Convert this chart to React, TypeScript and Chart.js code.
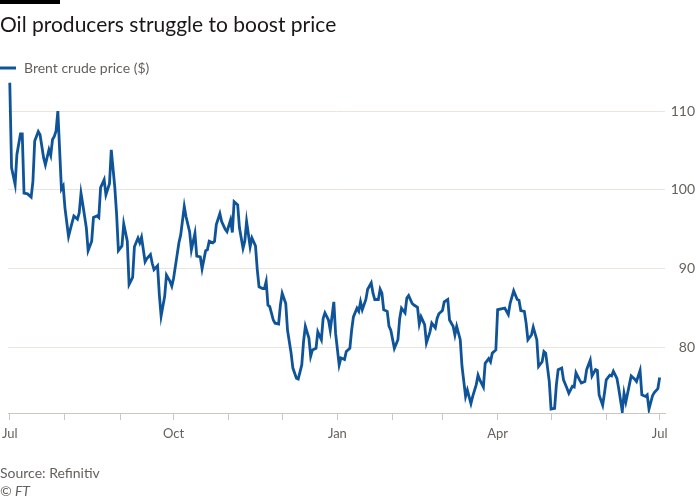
import React, { useEffect, useRef } from "react";
import { Chart, registerables } from "chart.js";

Chart.register(...registerables);

// Days since 1 Jul 2022
const days: number[] = [
  0, 1, 3, 4, 6, 7, 8, 10, 12, 13, 14, 16, 17, 19, 20, 22, 23, 24, 25, 26, 27, 29, 30, 31, 33, 34, 36, 38, 39, 40,
  41, 43, 44, 46, 47, 49, 50, 51, 53, 54, 56, 57, 59, 60, 61, 63, 64, 66, 67, 69, 70, 72, 73, 74, 76, 77, 79, 80,
  81, 83, 84, 85, 87, 88, 90, 91, 92, 94, 95, 96, 98, 99, 101, 102, 104, 105, 107, 108, 110, 111, 112, 114, 115,
  116, 118, 119, 121, 122, 124, 125, 126, 128, 129, 131, 132, 133, 135, 136, 138, 139, 140, 142, 143, 144, 145,
  146, 148, 149, 151, 152, 153, 155, 156, 158, 159, 161, 162, 164, 165, 166, 168, 169, 170, 172, 173, 175, 176,
  177, 179, 180, 182, 183, 185, 186, 188, 189, 191, 192, 193, 195, 196, 197, 198, 200, 201, 203, 204, 205, 207,
  208, 209, 210, 212, 213, 214, 216, 218, 219, 220, 222, 223, 224, 226, 227, 229, 230, 231, 233, 234, 236, 237,
  239, 240, 241, 243, 244, 246, 247, 249, 250, 251, 253, 254, 256, 257, 259, 260, 262, 263, 264, 266, 267, 269,
  270, 271, 273, 274, 276, 278, 280, 281, 283, 285, 286, 287, 289, 290, 291, 293, 294, 296, 297, 299, 300, 301,
  303, 304, 306, 307, 308, 310, 311, 313, 314, 316, 317, 318, 320, 321, 323, 324, 326, 327, 329, 330, 331, 333,
  334, 335, 337, 338, 339, 341, 342, 344, 345, 346, 348, 349, 351, 352, 354, 355, 357, 358, 359, 361, 362, 364,
  365,
];

// Brent crude price ($)
const prices: number[] = [
  113.6, 102.8, 100.7, 104.5, 107.1, 107.1, 99.6, 99.5, 99.1, 101.1, 106.2, 107.4, 107.0, 104.1, 103.2, 105.1,
  104.4, 106.4, 106.8, 107.5, 110.0, 100.1, 100.5, 97.7, 94.1, 95.0, 96.7, 96.3, 97.1, 99.6, 98.2, 95.2, 92.3,
  93.5, 96.5, 96.7, 96.5, 100.3, 101.3, 99.4, 100.8, 105.1, 100.3, 96.9, 92.3, 92.9, 95.7, 93.5, 88.0, 88.9, 92.8,
  93.9, 93.3, 94.0, 90.9, 91.3, 91.8, 90.7, 89.9, 90.4, 86.7, 84.0, 86.5, 89.2, 88.4, 87.8, 88.8, 91.8, 93.3, 94.3,
  97.9, 96.6, 94.7, 92.4, 94.5, 91.6, 91.5, 90.0, 92.3, 92.4, 93.5, 93.3, 93.5, 95.6, 97.0, 96.0, 95.0, 94.7, 96.2,
  94.6, 98.5, 98.1, 95.2, 92.6, 93.5, 96.0, 92.8, 93.9, 92.9, 89.9, 87.7, 87.5, 87.5, 88.4, 85.4, 85.2, 83.5, 83.1,
  83.0, 85.4, 86.9, 85.6, 82.2, 79.3, 77.4, 76.1, 76.0, 77.8, 80.8, 82.7, 81.2, 78.9, 79.7, 79.9, 82.0, 81.0, 83.7,
  84.4, 83.5, 82.2, 85.8, 81.8, 77.8, 78.7, 78.5, 79.5, 79.9, 82.2, 83.9, 85.0, 84.6, 85.8, 84.8, 86.1, 87.4, 88.2,
  86.9, 86.1, 86.1, 87.4, 86.9, 84.8, 84.6, 82.7, 82.2, 79.9, 81.0, 83.7, 85.0, 84.4, 86.3, 86.6, 85.6, 85.4, 85.1,
  83.0, 83.9, 82.9, 80.6, 82.0, 83.1, 82.5, 83.7, 84.3, 84.7, 85.8, 86.1, 83.5, 82.7, 81.6, 82.7, 81.0, 77.6, 73.8,
  74.6, 72.9, 73.8, 75.3, 76.5, 75.9, 75.0, 78.0, 78.6, 78.2, 79.3, 79.7, 84.8, 84.9, 85.0, 84.2, 85.6, 87.2, 86.1,
  86.0, 84.7, 84.6, 83.1, 81.0, 81.6, 82.6, 81.0, 77.6, 78.2, 79.5, 79.3, 75.7, 72.2, 72.3, 75.3, 77.2, 77.4, 75.9,
  74.8, 74.2, 75.1, 75.0, 76.8, 75.9, 75.5, 75.7, 77.2, 78.4, 76.4, 77.2, 77.1, 74.0, 72.7, 74.2, 75.9, 76.5, 76.4,
  77.0, 76.1, 74.8, 71.9, 74.2, 73.1, 75.3, 76.4, 76.0, 75.7, 77.1, 74.0, 73.8, 74.0, 72.2, 73.9, 74.3, 74.8, 76.2,
];

// Month starts (days since 1 Jul 2022) and their labels
const monthTicks: number[] = [0, 31, 62, 92, 123, 153, 184, 215, 243, 274, 304, 335, 365];
const monthLabels: string[] = ["Jul", "", "", "Oct", "", "", "Jan", "", "", "Apr", "", "", "Jul"];
const yTicks: number[] = [80, 90, 100, 110];

const TITLE = "Oil producers struggle to boost price";
const SERIES = "Brent crude price ($)";
const SOURCE = "Source: Refinitiv";
const CREDIT = "© FT";

const FONT = "Lato, 'Noto Sans', sans-serif";
const GREY = "#66605c";
const BLUE = "#0f5499";

const textPlugin = {
  id: "ftText",
  afterDraw(chart: any) {
    const ctx = chart.ctx as CanvasRenderingContext2D;
    ctx.save();
    ctx.fillStyle = "#000";
    ctx.fillRect(0, 0, 60, 4);
    ctx.fillStyle = "#1a1817";
    ctx.font = `21px ${FONT}`;
    ctx.textBaseline = "alphabetic";
    ctx.textAlign = "left";
    ctx.fillText(TITLE, 0, 32);
    ctx.strokeStyle = BLUE;
    ctx.lineWidth = 3;
    ctx.beginPath();
    ctx.moveTo(0, 68);
    ctx.lineTo(16, 68);
    ctx.stroke();
    ctx.fillStyle = GREY;
    ctx.font = `14px ${FONT}`;
    ctx.textBaseline = "middle";
    ctx.fillText(SERIES, 24, 68);
    ctx.fillText(SOURCE, 0, 473);
    ctx.font = `italic 14px ${FONT}`;
    ctx.fillText(CREDIT, 0, 491);
    ctx.restore();
  },
};

export default function App() {
  const ref = useRef<HTMLCanvasElement | null>(null);
  useEffect(() => {
    document.body.style.margin = "0";
    if (!ref.current) return;
    const chart = new Chart(ref.current, {
      type: "line",
      data: {
        datasets: [
          {
            label: SERIES,
            data: days.map((d, i) => ({ x: d, y: prices[i] })),
            borderColor: BLUE,
            borderWidth: 2.8,
            pointRadius: 0,
            tension: 0,
            fill: false,
          },
        ],
      },
      options: {
        animation: false,
        responsive: true,
        maintainAspectRatio: false,
        layout: { padding: { top: 82, left: 8, right: 5, bottom: 57 } },
        plugins: { legend: { display: false }, tooltip: { enabled: false }, title: { display: false } },
        scales: {
          x: {
            type: "linear",
            min: -1,
            max: 368,
            afterBuildTicks: (scale: any) => {
              scale.ticks = monthTicks.map((v) => ({ value: v }));
            },
            afterFit: (scale: any) => {
              scale.height = 30;
              scale.paddingLeft = 0;
              scale.paddingRight = 0;
            },
            grid: { drawOnChartArea: false, drawTicks: true, tickLength: 7, color: "#cfc7bf" },
            border: { display: true, color: "#cfc7bf" },
            ticks: {
              autoSkip: false,
              maxRotation: 0,
              padding: 6,
              color: GREY,
              font: { family: FONT, size: 13 },
              callback: (v: any) => {
                const i = monthTicks.indexOf(Number(v));
                return i >= 0 ? monthLabels[i] : "";
              },
            },
          },
          y: {
            position: "right",
            min: 71.7,
            max: 113.7,
            afterBuildTicks: (scale: any) => {
              scale.ticks = yTicks.map((v) => ({ value: v }));
            },
            afterFit: (scale: any) => {
              scale.width = 30;
            },
            grid: { drawTicks: false, color: "#ebe4dd" },
            border: { display: false },
            ticks: {
              crossAlign: "far",
              padding: 4,
              color: GREY,
              font: { family: FONT, size: 14 },
              callback: (v: any) => String(v),
            },
          },
        },
      },
      plugins: [textPlugin],
    });
    return () => chart.destroy();
  }, []);
  return (
    <div style={{ position: "relative", width: 700, height: 500 }}>
      <canvas ref={ref} />
    </div>
  );
}
